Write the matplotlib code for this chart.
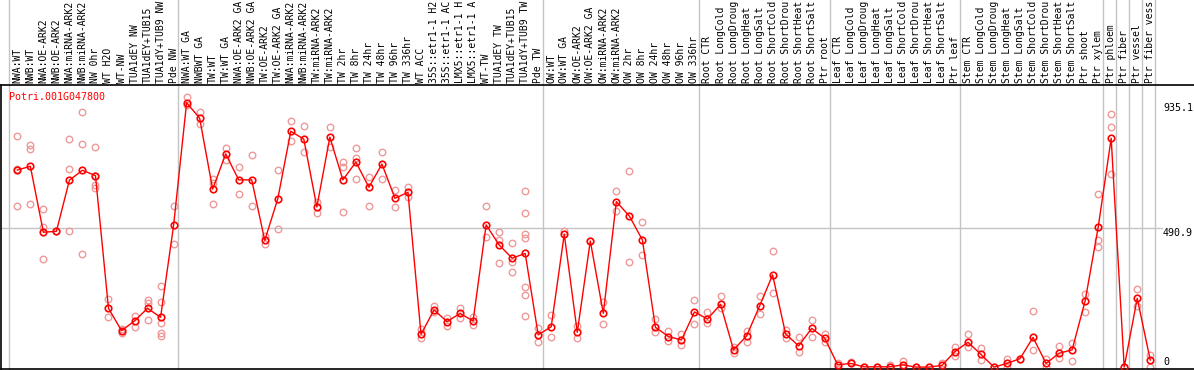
import numpy as np
import matplotlib
matplotlib.use("Agg")
import matplotlib.pyplot as plt
import matplotlib.transforms as mtransforms


GENE = "Potri.001G047800"

SAMPLES = [
    # NW
    "NWA:WT", "NWB:WT", "NWA:OE-ARK2", "NWB:OE-ARK2", "NWA:miRNA-ARK2", "NWB:miRNA-ARK2",
    "NW 0hr", "WT H2O", "WT-NW", "TUA1dEY NW", "TUA1dEY+TUB15", "TUA1dY+TUB9 NW", "Pde NW",
    # GA / TW
    "NWA:WT GA", "NWBWT GA", "TW:WT", "TW:WT GA", "NWA:OE-ARK2 GA", "NWB:OE-ARK2 GA",
    "TW:OE-ARK2", "TW:OE-ARK2 GA", "NWA:miRNA-ARK2", "NWB:miRNA-ARK2", "TW:miRNA-ARK2",
    "TW:miRNA-ARK2", "TW 2hr", "TW 8hr", "TW 24hr", "TW 48hr", "TW 96hr", "TW 336hr",
    "WT ACC", "35S::etr1-1 H2", "35S::etr1-1 AC", "LMX5::etr1-1 H", "LMX5::etr1-1 A",
    "WT-TW", "TUA1dEY TW", "TUA1dEY+TUB15", "TUA1dY+TUB9 TW", "Pde TW",
    # OW
    "OW:WT", "OW:WT GA", "OW:OE-ARK2", "OW:OE-ARK2 GA", "OW:miRNA-ARK2", "OW:miRNA-ARK2",
    "OW 2hr", "OW 8hr", "OW 24hr", "OW 48hr", "OW 96hr", "OW 336hr",
    # Root
    "Root CTR", "Root LongCold", "Root LongDroug", "Root LongHeat", "Root LongSalt",
    "Root ShortCold", "Root ShortDrou", "Root ShortHeat", "Root ShortSalt", "Ptr root",
    # Leaf
    "Leaf CTR", "Leaf LongCold", "Leaf LongDroug", "Leaf LongHeat", "Leaf LongSalt",
    "Leaf ShortCold", "Leaf ShortDrou", "Leaf ShortHeat", "Leaf ShortSalt", "Ptr leaf",
    # Stem
    "Stem CTR", "Stem LongCold", "Stem LongDroug", "Stem LongHeat", "Stem LongSalt",
    "Stem ShortCold", "Stem ShortDrou", "Stem ShortHeat", "Stem ShortSalt", "Ptr shoot",
    "Ptr xylem",
    "Ptr phloem", "Ptr fiber", "Ptr vessel", "Ptr fiber vess",
]

GROUP_SIZES = [13, 28, 12, 10, 10, 11, 1, 1, 1, 1]

MEANS = [
    697, 710, 477, 480, 661, 696, 677, 208, 129, 163, 208, 176, 501,
    935, 880, 629, 754, 662, 662, 448, 595, 834, 806, 566, 813, 662, 725, 636, 718,
    597, 618, 116, 202, 161, 190, 163, 503, 432, 385, 402, 114,
    143, 470, 123, 446, 190, 585, 534, 450, 141, 108, 96, 195,
    170, 222, 61, 110, 216, 326, 117, 75, 137, 102,
    8, 13, 1, 1, 1, 8, 0, 0, 6, 55,
    88, 45, 0, 13, 30, 105, 13, 49, 61, 234, 494,
    809, 0, 243, 25,
]

REPLICATES = [
    [817, 699, 570], [786, 770, 577], [559, 494, 381], [480], [806, 699, 480],
    [901, 788, 400], [777, 676, 644, 632], [240, 178], [134, 120], [181, 143],
    [237, 228, 167], [287, 230, 155, 120, 111], [570, 434],
    [954, 927], [901, 860], [664, 650, 576], [774, 732], [709, 611], [750, 570],
    [464, 435], [697, 488], [869, 800], [852, 760], [585, 544], [848, 777],
    [724, 709, 547], [774, 738, 664], [671, 571], [760, 664], [626, 565], [636, 603],
    [134, 102], [216, 196], [174, 146], [208, 173], [178, 149], [570, 461],
    [477, 450, 367], [438, 373, 338], [623, 544, 470, 455, 282, 255, 181], [137, 88],
    [184, 108], [481], [146, 102], [446], [229, 153], [623, 552], [694, 373],
    [512, 397], [169, 125], [129, 94], [117, 78], [237, 153],
    [196, 155], [252, 208], [72, 49], [129, 90], [252, 188], [411, 263],
    [131, 102], [108, 55], [167, 105], [117, 90],
    [16, 2], [19], [2], [2, 0], [8, 0], [23, 0], [2], [0], [13], [72, 41],
    [117, 70], [66, 25], [2], [30, 2], [30], [199, 61], [30, 0], [75, 31],
    [84, 22], [257, 194], [611, 450, 426],
    [894, 850, 682], [0], [275, 216], [43, 2],
]

RIGHT_LABELS = [935.1, 490.9, 0]

W, H = 1194, 370
AX_LEFT, AX_BOTTOM, AX_TOP = 1, 369, 85  # pixels

fig = plt.figure(figsize=(W / 100, H / 100), dpi=100)
ax = fig.add_axes([AX_LEFT / W, 1 - AX_BOTTOM / H, 1 - AX_LEFT / W, (AX_BOTTOM - AX_TOP) / H])

x = np.arange(len(SAMPLES))
ax.set_xlim(-1.254, 90.36)
ax.set_ylim(-6.7, 997.5)

ax.spines["right"].set_visible(False)
for s in ["left", "bottom", "top"]:
    ax.spines[s].set_color("black")
    ax.spines[s].set_linewidth(1.2)
ax.set_xticks([])
ax.set_yticks([])

grey = "#c4c4c4"
above = AX_BOTTOM / (AX_BOTTOM - AX_TOP)
bounds = np.cumsum([0] + GROUP_SIZES) - 1
for b in bounds:
    ax.axvline(b + 0.37, ymin=0, ymax=above, color=grey, lw=1, clip_on=False, zorder=1)

ax.axhline(RIGHT_LABELS[1], xmin=0, xmax=0.973, color=grey, lw=1, zorder=1)

# replicates
for i, reps in enumerate(REPLICATES):
    ax.plot([i] * len(reps), reps, linestyle="none", marker="o", ms=4.7, mfc="none",
            mec="#ee9a9a", mew=1.0, zorder=2, clip_on=False)

# means
ax.plot(x, MEANS, color="red", lw=1, marker="o", ms=4.7, mfc="none", mec="red", mew=1.2,
        zorder=3, clip_on=False)

mono = "DejaVu Sans Mono"
trans = mtransforms.blended_transform_factory(ax.transData, ax.transAxes)
for i, name in enumerate(SAMPLES):
    ax.text(i, 1 + 2 / (AX_BOTTOM - AX_TOP), name, rotation=90, ha="center", va="bottom",
            fontsize=7.0, family=mono, transform=trans, clip_on=False)

ax.text(0.007, 0.959, GENE, color="red", fontsize=7.2, family=mono, ha="left", va="center",
        transform=ax.transAxes)

rtrans = mtransforms.blended_transform_factory(ax.transAxes, ax.transData)
for v in RIGHT_LABELS:
    va = "bottom" if v == 0 else "top"
    ax.text(0.974, v, f"{v:g}", fontsize=7.2, family=mono, ha="left", va=va, transform=rtrans)

fig.savefig("out.png", dpi=100)
